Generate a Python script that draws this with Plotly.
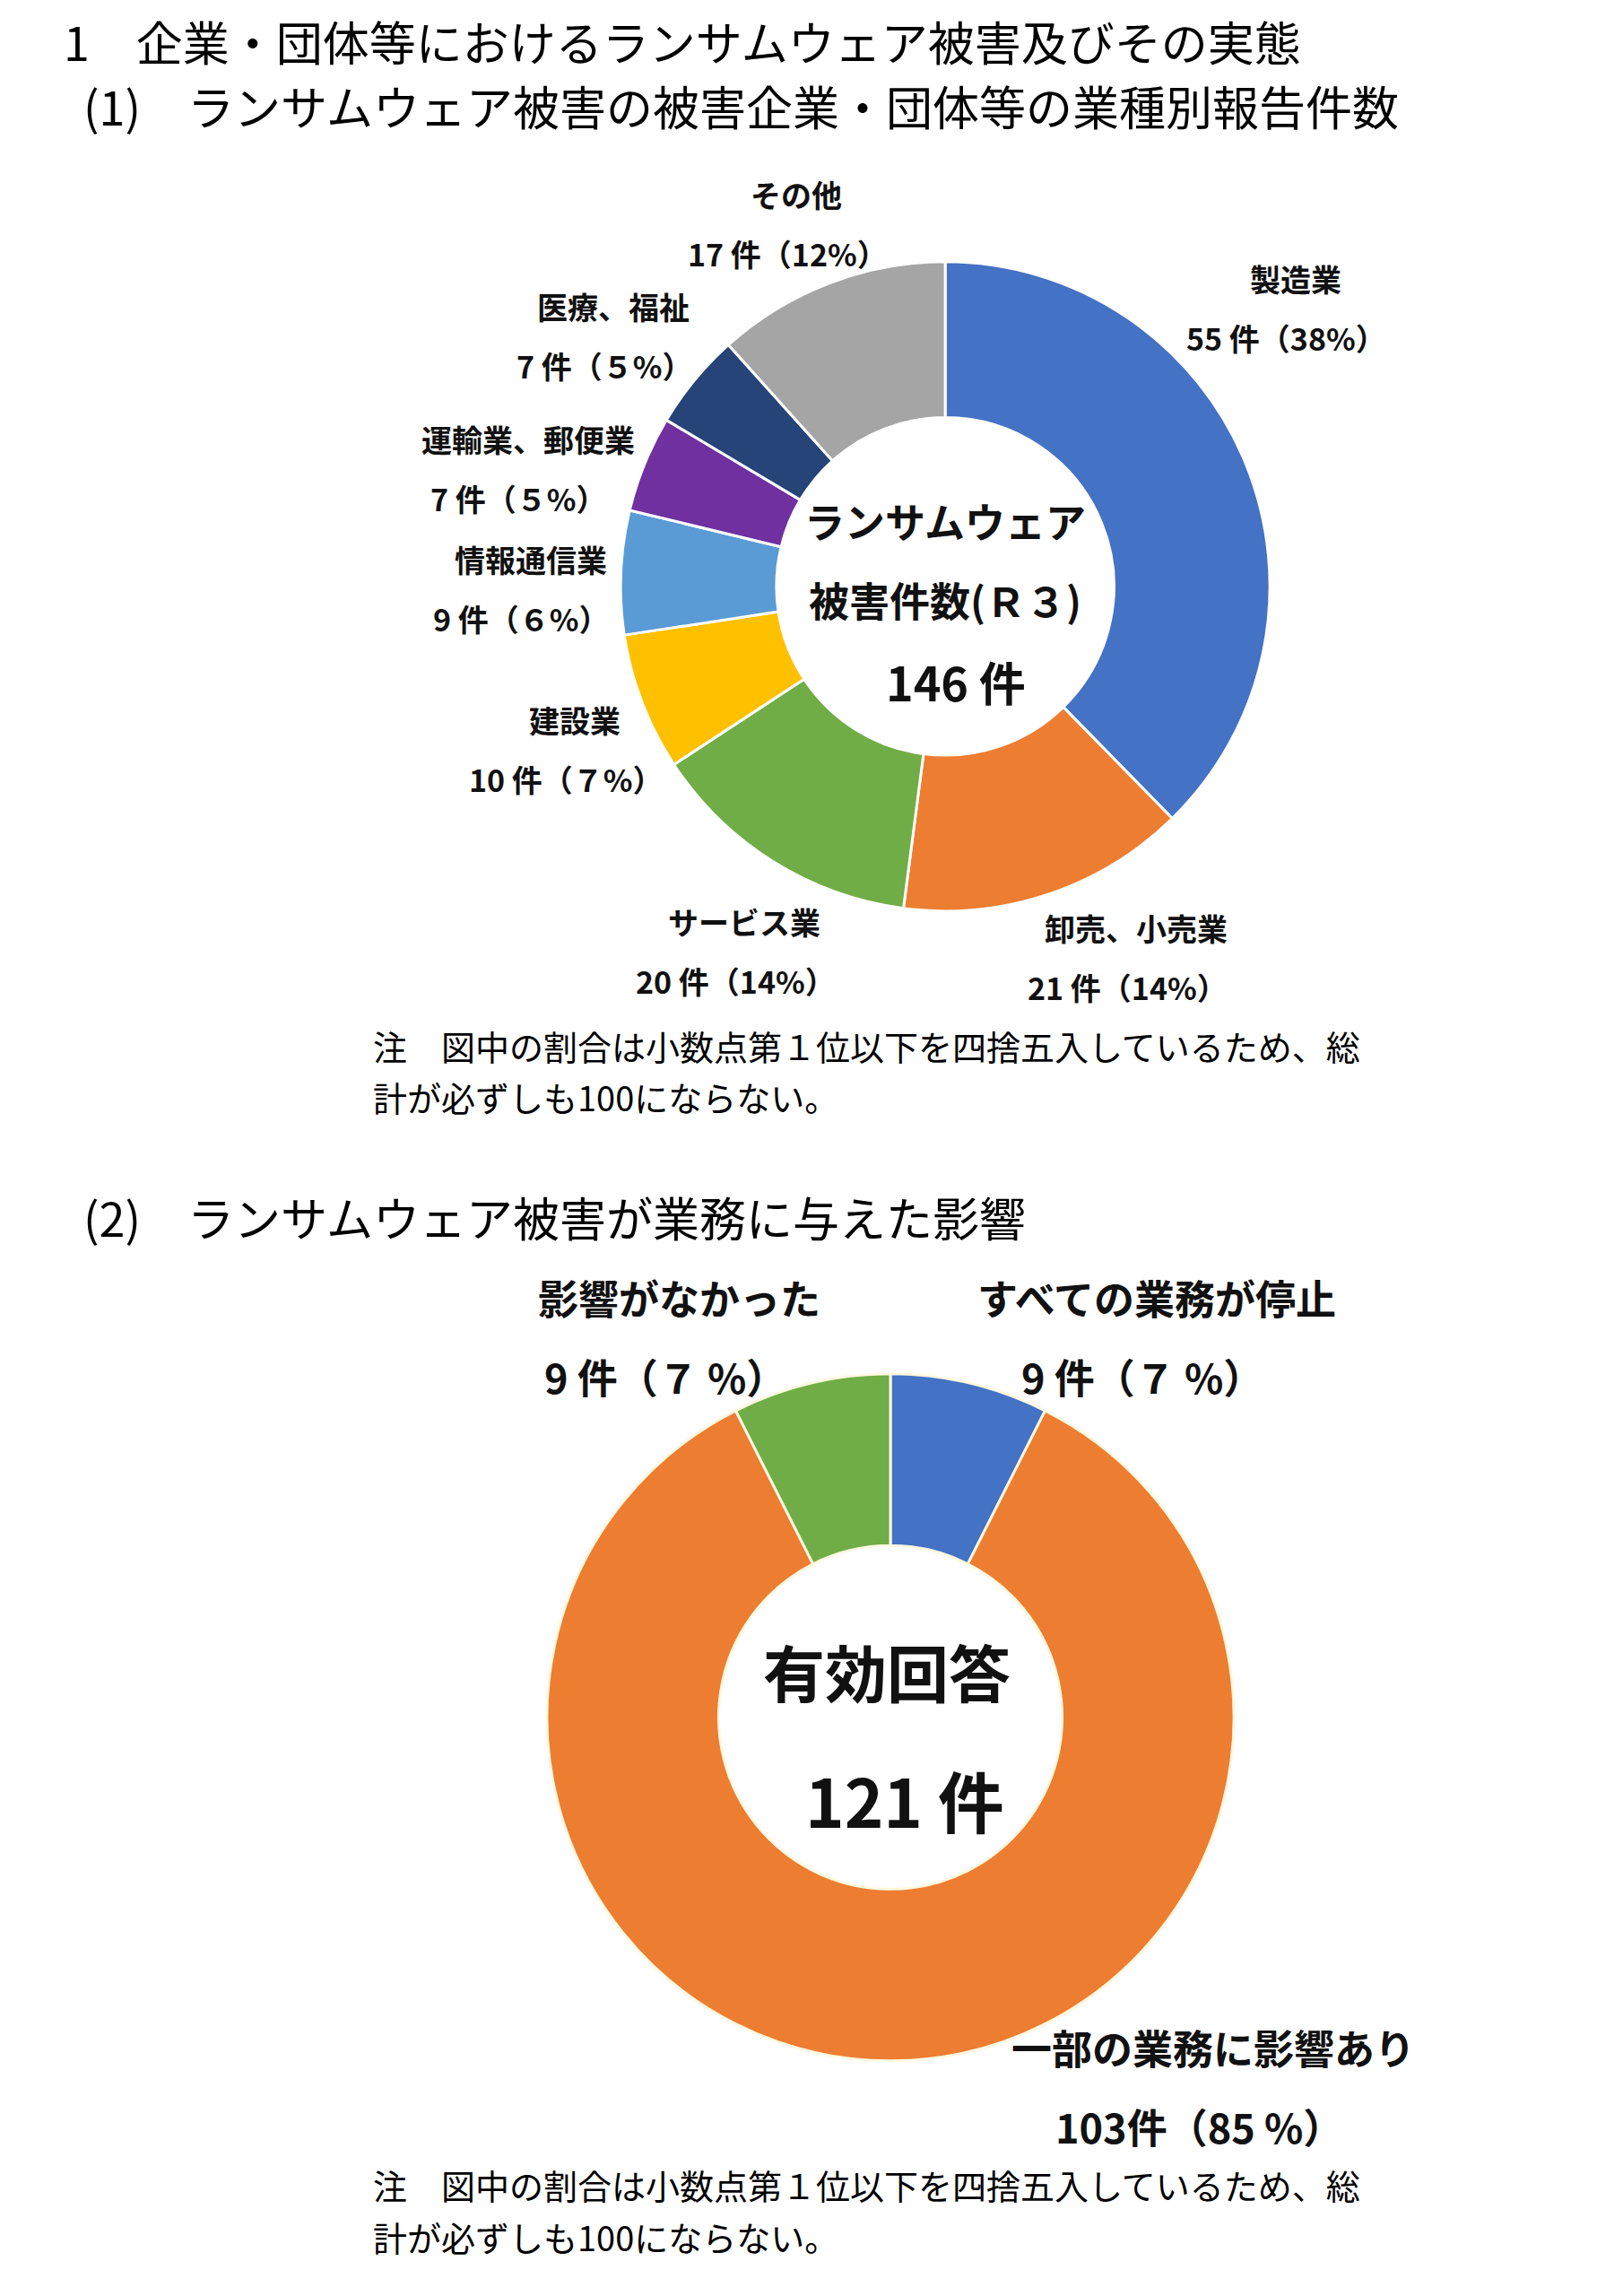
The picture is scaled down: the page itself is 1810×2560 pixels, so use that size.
import plotly.graph_objects as go

W, H = 1810, 2560

# ---- data ----
industries = ["製造業", "卸売、小売業", "サービス業", "建設業", "情報通信業",
              "運輸業、郵便業", "医療、福祉", "その他"]
industry_counts = [55, 21, 20, 10, 9, 7, 7, 17]
industry_pct = [38, 14, 14, 7, 6, 5, 5, 12]
industry_total = 146

impacts = ["すべての業務が停止", "一部の業務に影響あり", "影響がなかった"]
impact_counts = [9, 103, 9]
impact_pct = [7, 85, 7]
impact_total = 121

note_lines = ["注　図中の割合は小数点第１位以下を四捨五入しているため、総",
              "計が必ずしも100にならない。"]

# ---- styles ----
colors1 = ["#4472C4", "#ED7D31", "#70AD47", "#FFC000", "#5B9BD5",
           "#7030A0", "#264478", "#A5A5A5"]
colors2 = ["#4472C4", "#ED7D31", "#70AD47"]
FONT = "Noto Sans CJK JP"
SX, SY = 0.986, 0.989


def px(x, y):
    return x * SX / W, 1 - y * SY / H


def dom(cx, cy, r):
    cx, cy = cx * SX, cy * SY
    return dict(x=[(cx - r) / W, (cx + r) / W], y=[1 - (cy + r) / H, 1 - (cy - r) / H])


def pct_str(p):
    return chr(0xFF10 + p) if p < 10 else str(p)


fig = go.Figure()
fig.add_trace(go.Pie(
    labels=industries, values=industry_counts, hole=0.52, sort=False,
    direction="clockwise", rotation=0,
    marker=dict(colors=colors1, line=dict(color="white", width=3)),
    textinfo="none", hoverinfo="label+value+percent", showlegend=False,
    domain=dom(1061, 653, 362),
))
fig.add_trace(go.Pie(
    labels=impacts, values=impact_counts, hole=0.5, sort=False,
    direction="clockwise", rotation=0,
    marker=dict(colors=colors2, line=dict(color="#FFF8E0", width=3)),
    textinfo="none", hoverinfo="label+value+percent", showlegend=False,
    domain=dom(999, 1928, 383),
))

ann = []


def add(text, x, y, size, bold=False, anchor="center", color="#111111"):
    ax, ay = px(x, y)
    ann.append(dict(text=text, x=ax, y=ay, xref="paper", yref="paper",
                    xanchor=anchor, yanchor="middle", showarrow=False,
                    align="left" if anchor == "left" else "center",
                    font=dict(family=FONT, size=size, color=color,
                              weight="bold" if bold else "normal")))


# headings
add("1　企業・団体等におけるランサムウェア被害及びその実態", 62, 38, 52, anchor="left", color="#000")
add("(1)　ランサムウェア被害の被害企業・団体等の業種別報告件数", 84, 111, 52, anchor="left", color="#000")
add("(2)　ランサムウェア被害が業務に与えた影響", 84, 1364, 52, anchor="left", color="#000")

# donut 1 labels
pos1 = [(1457, 306), (1277, 1038), (834, 1031), (642, 803),
        (592, 622), (589, 487), (686, 337), (893, 211)]
for name, c, p, (x, y) in zip(industries, industry_counts, industry_pct, pos1):
    add(name, x, y, 34, bold=True)
    add(f"{c} 件（{pct_str(p)}%）", x - 10, y + 67, 34, bold=True)

add("ランサムウェア", 1061, 579, 45, bold=True)
add("被害件数(Ｒ３)", 1061, 668, 45, bold=True)
add(f"{industry_total} 件", 1073, 760, 52, bold=True)

for i, line in enumerate(note_lines):
    add(line, 412, 1170 + 58 * i, 38, anchor="left", color="#000")

# donut 2 labels
pos2 = [(1300, 1454), (1364, 2300), (760, 1454)]
for name, c, p, (x, y) in zip(impacts, impact_counts, impact_pct, pos2):
    add(name, x, y, 45, bold=True)
    sep = "件" if c >= 100 else " 件"
    add(f"{c}{sep}（{pct_str(p)} %）", x - 16, y + 89, 45, bold=True)

add("有効回答", 995, 1876, 69, bold=True)
add(f"{impact_total} 件", 1015, 2020, 74, bold=True)

for i, line in enumerate(note_lines):
    add(line, 412, 2455 + 58 * i, 38, anchor="left", color="#000")

fig.update_layout(
    width=W, height=H, margin=dict(l=0, r=0, t=0, b=0),
    paper_bgcolor="white", plot_bgcolor="white",
    annotations=ann, showlegend=False,
)

fig.write_html("out.html")
